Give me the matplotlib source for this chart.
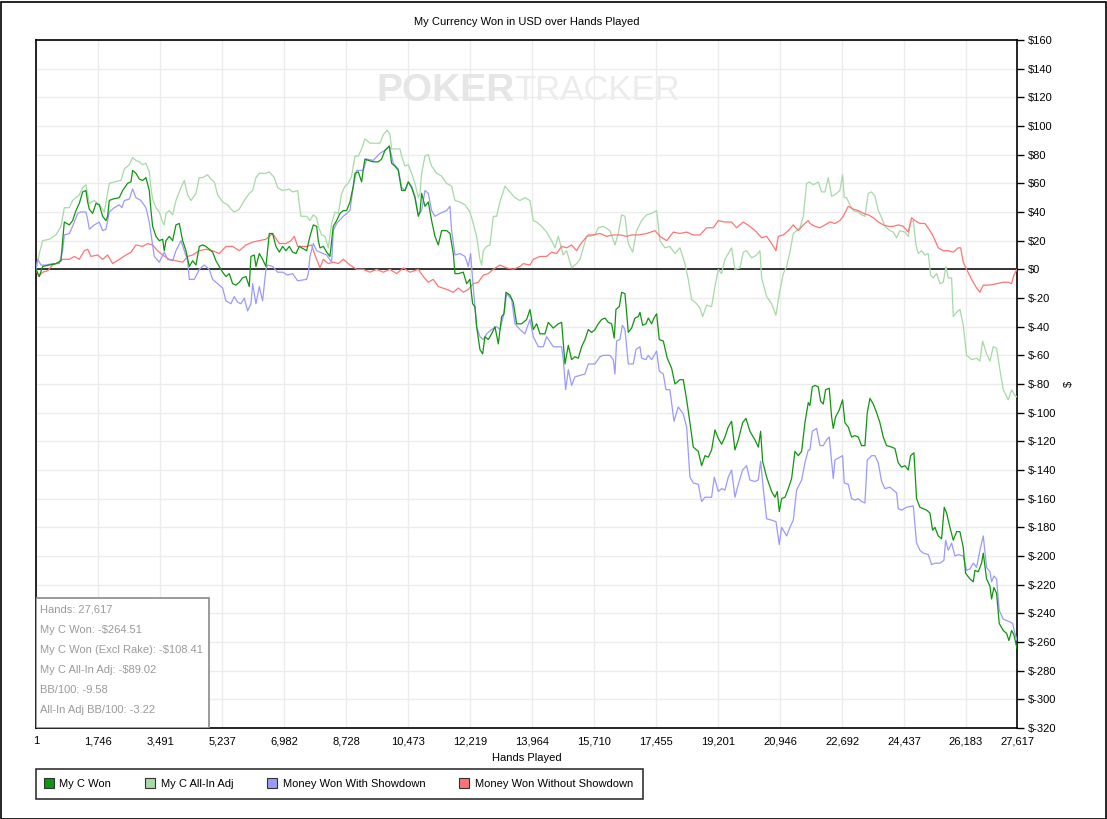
import matplotlib
matplotlib.use("Agg")
import matplotlib.pyplot as plt
from matplotlib.lines import Line2D
from matplotlib.patches import Rectangle
from matplotlib.ticker import FuncFormatter

plt.rcParams['font.family'] = ['Liberation Sans', 'DejaVu Sans']

# ---------------- data ----------------
won_hands = [1, 94, 188, 375, 563, 704, 751, 798, 938, 1032, 1126, 1220, 1314, 1407, 1454, 1501, 1595, 1689, 1783, 1877,
             1970, 2017, 2064, 2158, 2346, 2440, 2580, 2674, 2721, 2815, 2909, 3003, 3096, 3190, 3237, 3284, 3378, 3472,
             3566, 3612, 3659, 3753, 3847, 3941, 4035, 4129, 4222, 4316, 4410, 4504, 4598, 4692, 4785, 4879, 4973, 5067,
             5161, 5254, 5348, 5442, 5536, 5630, 5724, 5817, 5911, 6005, 6052, 6146, 6193, 6287, 6380, 6474, 6568, 6662,
             6756, 6850, 6943, 7037, 7131, 7225, 7319, 7413, 7620, 7713, 7807, 7901, 7948, 7995, 8089, 8183, 8276, 8370,
             8464, 8558, 8652, 8746, 8839, 8933, 8980, 9074, 9168, 9215, 9262, 9355, 9496, 9637, 9731, 9825, 9947, 10012,
             10106, 10200, 10294, 10388, 10481, 10575, 10669, 10763, 10810, 10857, 10951, 11044, 11138, 11232, 11326,
             11420, 11560, 11654, 11748, 11795, 11889, 12030, 12124, 12217, 12292, 12358, 12405, 12499, 12574, 12640,
             12733, 12827, 12921, 13015, 13109, 13174, 13231, 13343, 13437, 13531, 13672, 13813, 13906, 14000, 14094,
             14188, 14329, 14422, 14563, 14704, 14798, 14892, 14986, 15079, 15173, 15267, 15361, 15455, 15549, 15642,
             15736, 15830, 15924, 16018, 16112, 16205, 16280, 16327, 16421, 16487, 16581, 16675, 16768, 16862, 16956,
             17003, 17078, 17172, 17238, 17331, 17397, 17472, 17547, 17660, 17772, 17894, 17988, 18129, 18223, 18317,
             18410, 18504, 18645, 18739, 18833, 18927, 19020, 19114, 19208, 19302, 19395, 19489, 19583, 19677, 19771,
             19893, 19987, 20099, 20240, 20334, 20400, 20456, 20569, 20709, 20803, 20869, 20925, 20991, 21085, 21178,
             21272, 21366, 21460, 21554, 21647, 21741, 21788, 21854, 21929, 22023, 22088, 22163, 22229, 22332, 22398,
             22445, 22510, 22614, 22707, 22773, 22867, 22961, 23055, 23148, 23242, 23336, 23402, 23477, 23571, 23665,
             23758, 23852, 23946, 24087, 24181, 24274, 24368, 24462, 24556, 24622, 24715, 24790, 24884, 24978, 25072,
             25166, 25241, 25307, 25400, 25494, 25569, 25635, 25729, 25823, 25917, 26010, 26104, 26170, 26292, 26386,
             26433, 26526, 26620, 26667, 26761, 26855, 26902, 26967, 27042, 27117, 27230, 27324, 27390, 27465, 27530,
             27617]
won_vals = [0, -5, 2, 3, 4, 6, 20, 33, 31, 34, 41, 46, 54, 55, 47, 42, 39, 46, 45, 37,
            34, 37, 48, 49, 50, 55, 60, 61, 69, 67, 63, 62, 64, 55, 41, 30, 23, 20,
            21, 13, 20, 23, 20, 31, 32, 20, 13, 2, 6, 3, 16, 17, 16, 14, 12, 6,
            2, -2, -5, -3, -10, -11, -9, -6, -5, -12, 9, 10, 2, 11, 7, 2, 25, 25,
            16, 12, 16, 13, 16, 12, 11, 16, 13, 23, 31, 30, 20, 15, 16, 12, 9, 30,
            34, 39, 41, 41, 47, 58, 67, 68, 61, 70, 77, 76, 75, 75, 77, 83, 86, 74,
            72, 69, 55, 55, 61, 57, 50, 37, 40, 53, 44, 47, 34, 23, 17,
            27, 27, 25, 11, -3, -3, -2, -10, -7, -24, -26, -40, -56, -59, -47,
            -49, -45, -40, -52, -33, -31, -16, -18, -23, -38, -38, -35, -28, -42, -38,
            -45, -45, -37, -41, -38, -37, -66, -53, -63, -61, -62, -54, -49, -42, -44,
            -42, -38, -35, -34, -37, -38, -48, -28, -26, -16, -17, -44, -41, -34, -33,
            -30, -39, -38, -34, -38, -34, -31, -49, -50, -62, -69, -80, -77, -77, -91,
            -107, -124, -127, -137, -130, -131, -126, -112, -118, -122, -117, -110, -106, -126, -119,
            -107, -104, -113, -119, -124, -113, -134, -145, -155, -159, -155, -169, -160, -159, -153,
            -146, -127, -130, -127, -107, -93, -95, -82, -81, -82, -92, -94, -84, -83, -103,
            -111, -103, -98, -91, -107, -110, -117, -116, -117, -123, -123, -100, -90, -94, -100,
            -107, -117, -123, -124, -125, -135, -138, -137, -140, -130, -128, -160, -166, -167, -168,
            -170, -182, -180, -186, -188, -166, -170, -180, -189, -183, -183, -194, -212, -216, -218,
            -210, -211, -205, -198, -216, -221, -230, -222, -226, -247, -252, -254, -259, -252, -255,
            -264.51]

adj_hands = [1, 94, 188, 375, 563, 704, 798, 938, 1032, 1220, 1314, 1407, 1501, 1642, 1783, 1924, 2064, 2205, 2393,
             2487, 2628, 2721, 2815, 2909, 3003, 3096, 3190, 3237, 3284, 3378, 3472, 3566, 3612, 3659, 3753, 3847, 3941,
             4082, 4176, 4269, 4363, 4504, 4598, 4692, 4832, 4926, 5020, 5114, 5254, 5395, 5489, 5583, 5724, 5864, 6005,
             6099, 6193, 6287, 6474, 6568, 6709, 6803, 6943, 7131, 7225, 7366, 7460, 7620, 7713, 7807, 7901, 7948, 8042,
             8136, 8230, 8323, 8417, 8511, 8605, 8699, 8793, 8886, 8980, 9074, 9168, 9262, 9402, 9543, 9684, 9778, 9890,
             9965, 10012, 10106, 10247, 10294, 10388, 10481, 10575, 10669, 10763, 10810, 10857, 10951, 11044, 11138,
             11279, 11420, 11560, 11701, 11795, 11936, 12077, 12217, 12311, 12405, 12499, 12546, 12593, 12686, 12780,
             12874, 12968, 13062, 13203, 13343, 13484, 13625, 13765, 13906, 14000, 14094, 14235, 14375, 14516, 14610,
             14704, 14845, 14939, 15079, 15220, 15314, 15408, 15502, 15595, 15736, 15830, 15971, 16158, 16299, 16393,
             16487, 16581, 16675, 16797, 16909, 17050, 17191, 17331, 17472, 17566, 17707, 17847, 17988, 18129, 18270,
             18363, 18457, 18598, 18692, 18767, 18879, 19020, 19114, 19208, 19302, 19395, 19489, 19583, 19677, 19818,
             19912, 20005, 20146, 20287, 20381, 20428, 20569, 20709, 20831, 20925, 21038, 21132, 21225, 21319, 21413,
             21507, 21601, 21694, 21770, 21882, 22023, 22116, 22210, 22304, 22398, 22492, 22632, 22707, 22754, 22820,
             22914, 23008, 23148, 23242, 23336, 23430, 23524, 23618, 23712, 23805, 23899, 24040, 24134, 24228, 24321,
             24462, 24556, 24622, 24697, 24772, 24837, 24931, 25025, 25119, 25185, 25260, 25354, 25447, 25541, 25616,
             25682, 25776, 25823, 25917, 26010, 26104, 26198, 26339, 26479, 26573, 26648, 26761, 26855, 26948, 27042,
             27136, 27230, 27371, 27465, 27559, 27617]
adj_vals = [0, 11, 20, 21, 24, 30, 43, 43, 48, 52, 57, 59, 46, 48, 45, 40, 60, 61, 62,
            70, 73, 78, 76, 75, 73, 74, 68, 57, 49, 43, 40, 33, 31, 39, 41, 38, 48,
            57, 62, 52, 48, 53, 64, 64, 66, 63, 61, 52, 47, 45, 42, 40, 42, 48, 53,
            55, 64, 67, 67, 68, 64, 57, 55, 56, 54, 55, 37, 37, 34, 38, 36, 30, 24,
            23, 15, 32, 40, 39, 53, 58, 60, 65, 79, 79, 84, 91, 88, 88, 88, 94, 97,
            94, 84, 84, 84, 79, 72, 73, 67, 60, 50, 53, 67, 79, 80, 72,
            67, 65, 60, 58, 48, 47, 45, 40, 32, 23, 7, 3, 13, 16, 17,
            37, 37, 47, 58, 54, 50, 48, 50, 48, 34, 33, 30, 26, 20, 15,
            23, 10, 13, 1, 4, 7, 15, 23, 23, 24, 29, 30, 27, 17, 25,
            38, 37, 18, 12, 27, 34, 38, 39, 41, 20, 15, 16, 11, 15, 4,
            -7, -21, -24, -27, -33, -25, -26, -12, 0, -3, 7, 11, 15, 0, 1,
            12, 13, 8, 10, 13, -6, -19, -24, -32, -17, -3, 2, 12, 25, 27,
            29, 37, 60, 61, 59, 61, 54, 54, 64, 51, 52, 55, 66, 50, 50,
            45, 41, 40, 38, 37, 53, 54, 51, 41, 36, 30, 27, 26, 22, 27,
            26, 23, 33, 34, 17, 11, 13, 10, 11, -4, -6, -3, -10, -9, 2,
            -6, -6, -33, -30, -28, -39, -60, -63, -62, -64, -50, -59, -64, -54, -55,
            -70, -84, -91, -84, -88, -89.02]

sd_hands = [1, 48, 142, 282, 470, 657, 751, 798, 938, 1032, 1173, 1267, 1407, 1454, 1501, 1642, 1783, 1877, 1970,
            2064, 2205, 2346, 2421, 2487, 2628, 2721, 2815, 2956, 3096, 3190, 3266, 3331, 3472, 3612, 3706, 3847, 3941,
            4082, 4176, 4269, 4316, 4457, 4598, 4738, 4879, 4973, 5114, 5254, 5348, 5489, 5583, 5677, 5771, 5864, 5958,
            6052, 6099, 6193, 6287, 6380, 6474, 6521, 6662, 6803, 6943, 7084, 7225, 7366, 7620, 7667, 7713, 7807, 7901,
            7995, 8183, 8323, 8370, 8464, 8652, 8839, 8933, 9027, 9215, 9309, 9496, 9684, 9825, 9947, 10059, 10200,
            10294, 10388, 10481, 10575, 10669, 10763, 10857, 10951, 11044, 11138, 11232, 11373, 11560, 11654, 11701,
            11795, 11936, 12077, 12171, 12236, 12292, 12358, 12405, 12499, 12593, 12686, 12827, 12968, 13062, 13174,
            13249, 13390, 13484, 13625, 13765, 13906, 14000, 14141, 14282, 14375, 14563, 14704, 14798, 14845, 14911,
            14986, 15079, 15173, 15314, 15455, 15549, 15736, 15877, 15971, 16158, 16252, 16299, 16346, 16440, 16506,
            16581, 16675, 16815, 16890, 17003, 17050, 17172, 17238, 17331, 17472, 17547, 17660, 17735, 17847, 17960,
            18082, 18223, 18317, 18410, 18504, 18645, 18739, 18833, 19020, 19095, 19208, 19302, 19395, 19489, 19583,
            19677, 19771, 19893, 20005, 20099, 20240, 20334, 20400, 20475, 20569, 20709, 20831, 20925, 20991, 21132,
            21225, 21319, 21413, 21554, 21647, 21741, 21788, 21854, 21976, 22070, 22163, 22257, 22332, 22398, 22445,
            22492, 22632, 22707, 22754, 22867, 22961, 23055, 23148, 23242, 23336, 23402, 23524, 23618, 23712, 23805,
            23899, 24040, 24134, 24228, 24274, 24368, 24509, 24697, 24790, 24884, 24978, 25119, 25213, 25307, 25447,
            25560, 25607, 25682, 25776, 25870, 25964, 26104, 26198, 26292, 26386, 26479, 26573, 26667, 26761, 26855,
            26902, 26967, 27042, 27117, 27230, 27324, 27418, 27493, 27559, 27617]
sd_vals = [0, 7, 3, 3, 4, 4, 13, 24, 25, 30, 39, 40, 40, 35, 28, 31, 33, 27, 28,
           40, 43, 45, 43, 48, 49, 56, 50, 48, 43, 33, 20, 9, 5, 12, 7, 6, 13,
           20, 13, 6, -7, -7, 0, 3, 0, -7, -10, -13, -22, -24, -19, -23, -24, -20, -29,
           -24, -10, -24, -12, -22, 0, 3, 2, -2, -2, -4, -3, -8, -7, -3, 9, 18, 13,
           12, 10, 5, 27, 32, 37, 41, 58, 69, 69, 77, 76, 81, 83, 86, 74, 70,
           57, 55, 61, 58, 51, 38, 41, 55, 53, 41, 37, 39, 41, 44, 27,
           10, 11, 9, 2, 11, -7, -26, -40, -47, -49, -45, -42, -40, -42, -31,
           -17, -21, -38, -42, -45, -35, -47, -54, -54, -47, -54, -54, -54, -63, -84,
           -70, -81, -75, -74, -73, -66, -66, -61, -60, -60, -63, -73, -50, -49, -39,
           -42, -66, -66, -56, -54, -62, -63, -60, -63, -57, -71, -73, -84, -84, -106,
           -96, -101, -110, -145, -149, -150, -162, -159, -159, -145, -155, -153, -154, -145, -140,
           -159, -150, -140, -137, -147, -148, -147, -134, -153, -174, -175, -176, -192, -180, -186,
           -180, -175, -154, -147, -135, -126, -126, -113, -111, -123, -123, -119, -117, -134, -146,
           -133, -131, -130, -149, -150, -160, -161, -160, -162, -163, -133, -130, -130, -135, -148,
           -153, -152, -154, -156, -167, -168, -166, -165, -191, -196, -198, -199, -206, -205, -205,
           -203, -189, -196, -191, -200, -199, -200, -210, -209, -205, -208, -196, -186, -208, -211,
           -218, -214, -216, -238, -244, -245, -246, -247, -254, -259]

nsd_hands = [1, 76, 188, 329, 470, 657, 751, 938, 1080, 1220, 1361, 1454, 1549, 1736, 1877, 2017, 2158, 2346, 2534,
             2674, 2815, 3003, 3143, 3284, 3425, 3566, 3753, 3941, 4129, 4269, 4410, 4598, 4785, 4973, 5161, 5348, 5536,
             5724, 5911, 6099, 6287, 6474, 6662, 6850, 7037, 7178, 7272, 7366, 7620, 7760, 7854, 7995, 8089, 8230, 8370,
             8511, 8652, 8839, 9027, 9215, 9402, 9590, 9778, 9965, 10153, 10341, 10528, 10763, 10904, 11044, 11185,
             11326, 11560, 11748, 11889, 12030, 12171, 12311, 12452, 12593, 12733, 12874, 13062, 13249, 13437, 13625,
             13719, 13906, 14000, 14188, 14375, 14516, 14657, 14798, 14939, 15079, 15220, 15314, 15408, 15549, 15689,
             15877, 16065, 16252, 16440, 16628, 16768, 16956, 17191, 17425, 17566, 17754, 17941, 18129, 18317, 18504,
             18692, 18879, 19067, 19208, 19395, 19583, 19724, 19912, 20099, 20287, 20428, 20569, 20709, 20831, 20897,
             21038, 21178, 21319, 21460, 21601, 21741, 21788, 21929, 22070, 22210, 22351, 22492, 22632, 22726, 22867,
             23008, 23148, 23289, 23430, 23571, 23712, 23852, 23993, 24134, 24274, 24415, 24556, 24650, 24744, 24884,
             25025, 25166, 25260, 25400, 25541, 25682, 25823, 25964, 26029, 26104, 26198, 26339, 26479, 26573, 26667,
             26855, 27042, 27230, 27371, 27465, 27530, 27617]
nsd_vals = [0, -5, -2, -1, 3, 5, 7, 7, 9, 7, 13, 14, 9, 10, 7, 10, 4, 7, 10,
            12, 17, 16, 18, 17, 13, 10, 7, 6, 5, 9, 10, 13, 14, 13, 11, 16, 16,
            13, 17, 19, 20, 21, 25, 18, 18, 20, 23, 16, 16, 17, 10, 1, 7, 4, 5,
            4, 7, 3, 0, 0, -2, 0, -2, 0, -3, 1, -2, 0, -5, -9, -7,
            -12, -14, -16, -13, -16, -14, -10, -9, -4, -3, 0, 3, 1, 0, 2,
            4, 3, 7, 9, 9, 12, 11, 16, 15, 17, 13, 17, 20, 24, 24,
            25, 23, 24, 24, 23, 24, 24, 25, 27, 23, 20, 26, 25, 26, 24,
            24, 29, 29, 34, 33, 33, 29, 33, 30, 26, 22, 23, 18, 13, 23,
            24, 27, 31, 27, 31, 34, 32, 30, 29, 31, 33, 32, 34, 37, 44,
            42, 41, 39, 38, 36, 33, 31, 30, 30, 31, 30, 26, 36, 34, 32,
            32, 27, 23, 15, 13, 13, 12, 15, 15, 5, 0, -7, -13, -16, -11,
            -11, -10, -9, -9, -10, -4, 0]

x_ticks = [1, 1746, 3491, 5237, 6982, 8728, 10473, 12219, 13964, 15710, 17455, 19201, 20946, 22692, 24437, 26183, 27617]
y_ticks = list(range(-320, 161, 20))

series_labels = ["My C Won", "My C All-In Adj", "Money Won With Showdown", "Money Won Without Showdown"]
series_colors = ["#0f960f", "#a6daa6", "#9a9aff", "#ff7474"]

stats_lines = ["Hands: 27,617", "My C Won: -$264.51", "My C Won (Excl Rake): -$108.41",
               "My C All-In Adj: -$89.02", "BB/100: -9.58", "All-In Adj BB/100: -3.22"]

# ---------------- figure ----------------
W, H = 1107, 819
fig = plt.figure(figsize=(W / 100, H / 100), dpi=100)
fig.patch.set_facecolor("white")
fig.patches.append(Rectangle((0.5 / W, 0.5 / H), (W - 2) / W, (H - 2) / H, transform=fig.transFigure,
                             fill=False, edgecolor="black", linewidth=1.2))

L, R, T, B = 36, 1017, 40, 728
ax = fig.add_axes([L / W, 1 - B / H, (R - L) / W, (B - T) / H])
ax.set_xlim(1, 27617)
ax.set_ylim(-320, 160)

FS = 8
ax.set_xticks(x_ticks)
ax.set_xticklabels([f"{t:,}" for t in x_ticks])
ax.set_yticks(y_ticks)
ax.yaxis.set_major_formatter(FuncFormatter(lambda v, p: f"${int(v)}"))
ax.yaxis.tick_right()
ax.yaxis.set_label_position("right")
ax.tick_params(axis="y", direction="out", length=5, width=1, labelsize=FS, pad=3, colors="black")
ax.tick_params(axis="x", length=0, labelsize=FS, pad=6)
ax.grid(True, color="#ececec", linewidth=1)
ax.set_axisbelow(True)
for s in ax.spines.values():
    s.set_color("black")
    s.set_linewidth(1.2)

ax.set_xlabel("Hands Played", fontsize=FS, labelpad=5)
ax.set_ylabel("$", fontsize=FS, labelpad=5)
ax.set_title("My Currency Won in USD over Hands Played", fontsize=FS, pad=11)

# watermark
ax.text(0.488, 0.926, "POKER", transform=ax.transAxes, ha="right", va="center",
        fontsize=28, fontweight="bold", color="#e6e6e6", zorder=1)
ax.text(0.488, 0.926, "TRACKER", transform=ax.transAxes, ha="left", va="center",
        fontsize=25, color="#ececec", zorder=1)

ax.axhline(0, color="black", linewidth=1.1, zorder=2)

LW = 0.9
ax.plot(adj_hands, adj_vals, color=series_colors[1], linewidth=LW, zorder=3)
ax.plot(nsd_hands, nsd_vals, color=series_colors[3], linewidth=LW, zorder=4)
ax.plot(sd_hands, sd_vals, color=series_colors[2], linewidth=LW, zorder=5)
ax.plot(won_hands, won_vals, color=series_colors[0], linewidth=LW, zorder=6)

# stats box
bx0, by0, bx1, by1 = 36, 598, 209, 728
ax.add_patch(Rectangle((0, 0), (bx1 - bx0) / (R - L), (by1 - by0) / (B - T), transform=ax.transAxes,
                       facecolor="white", edgecolor="#8a8a8a", linewidth=1.2, zorder=10))
for i, line in enumerate(stats_lines):
    yc = 610 + 20 * i
    ax.text((40 - L) / (R - L), (B - yc) / (B - T), line, transform=ax.transAxes, ha="left", va="center",
            fontsize=FS, color="#9a9a9a", zorder=11)

# legend
handles = [Line2D([], [], linestyle="none", marker="s", markersize=7.5, markerfacecolor=c,
                  markeredgecolor="#333333", markeredgewidth=0.8) for c in series_colors]
leg = fig.legend(handles, series_labels, loc="upper left", bbox_to_anchor=(L / W, 1 - 769 / H), ncol=4,
                 frameon=True, fancybox=False, edgecolor="black", fontsize=FS, handlelength=0.5,
                 handletextpad=0.7, columnspacing=3.25, borderpad=0.9, borderaxespad=0)
leg.get_frame().set_linewidth(1.2)

fig.savefig("out.png", dpi=100)
